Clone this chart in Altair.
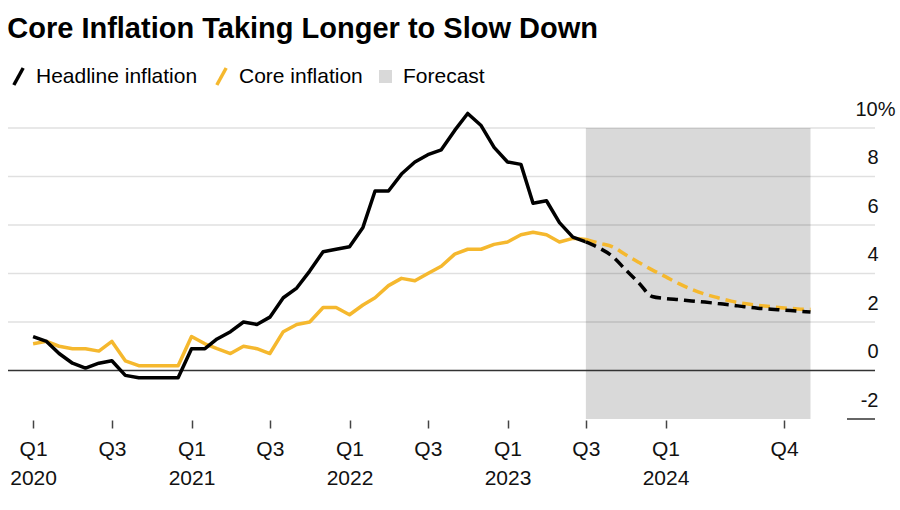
import altair as alt
import pandas as pd

# ---------------- data ----------------
actual_dates = pd.date_range("2020-01-01", "2023-07-01", freq="MS").strftime("%Y-%m-%d").tolist()
forecast_dates = pd.date_range("2023-07-01", "2024-12-01", freq="MS").strftime("%Y-%m-%d").tolist()

headline_actual = [1.4, 1.2, 0.7, 0.3, 0.1, 0.3, 0.4, -0.2, -0.3, -0.3, -0.3, -0.3,
                   0.9, 0.9, 1.3, 1.6, 2.0, 1.9, 2.2, 3.0, 3.4, 4.1, 4.9, 5.0,
                   5.1, 5.9, 7.4, 7.4, 8.1, 8.6, 8.9, 9.1, 9.9, 10.6, 10.1, 9.2,
                   8.6, 8.5, 6.9, 7.0, 6.1, 5.5, 5.3]
core_actual = [1.1, 1.2, 1.0, 0.9, 0.9, 0.8, 1.2, 0.4, 0.2, 0.2, 0.2, 0.2,
               1.4, 1.1, 0.9, 0.7, 1.0, 0.9, 0.7, 1.6, 1.9, 2.0, 2.6, 2.6,
               2.3, 2.7, 3.0, 3.5, 3.8, 3.7, 4.0, 4.3, 4.8, 5.0, 5.0, 5.2,
               5.3, 5.6, 5.7, 5.6, 5.3, 5.45, 5.4]
headline_forecast = [5.3, 5.05, 4.7, 4.15, 3.6, 3.05, 2.97, 2.92, 2.87, 2.82, 2.76, 2.7,
                     2.63, 2.57, 2.53, 2.49, 2.45, 2.41]
core_forecast = [5.4, 5.25, 5.1, 4.77, 4.45, 4.15, 3.87, 3.58, 3.35, 3.15, 3.0, 2.86,
                 2.76, 2.69, 2.63, 2.58, 2.54, 2.52]

series_names = ["Core inflation", "Headline inflation"]
legend_order = ["Headline inflation", "Core inflation"]
series_colors = ["#000000", "#f5b82e"]

forecast_label = "Forecast"
forecast_start = "2023-07-01"
forecast_end = "2024-12-01"
forecast_color = "#d9d9d9"

y_ticks = [-2, 0, 2, 4, 6, 8, 10]
grid_values = [2, 4, 6, 8, 10]
x_tick_dates = [(2020, 1), (2020, 7), (2021, 1), (2021, 7), (2022, 1), (2022, 7),
                (2023, 1), (2023, 7), (2024, 1), (2024, 10)]
x_domain = [(2019, 11, 4), (2025, 4, 29)]
y_domain = [-2, 10]

# ---------------- tables ----------------
actual_rows = []
for name, vals in zip(series_names, [core_actual, headline_actual]):
    for d, v in zip(actual_dates, vals):
        actual_rows.append({"date": d, "value": v, "series": name})
actual_df = pd.DataFrame(actual_rows)

fc_rows = []
for name, vals in zip(series_names, [core_forecast, headline_forecast]):
    for d, v in zip(forecast_dates, vals):
        fc_rows.append({"date": d, "value": v, "series": name})
fc_df = pd.DataFrame(fc_rows)

band_df = pd.DataFrame([{"start": forecast_start, "end": forecast_end,
                         "top": y_domain[1], "bottom": y_domain[0], "label": forecast_label}])
grid_df = pd.DataFrame({"value": grid_values})
zero_df = pd.DataFrame({"value": [0]})
bottom_df = pd.DataFrame({"value": [y_domain[0]]})

FONT = "Liberation Sans"

x_scale = alt.Scale(type="utc", domain=[alt.DateTime(year=a, month=b, date=c, utc=True) for a, b, c in x_domain])
y_scale = alt.Scale(domain=y_domain, nice=False, zero=False)

x_axis = alt.Axis(
    title=None,
    values=[alt.DateTime(year=a, month=b, date=1, utc=True) for a, b in x_tick_dates],
    labelExpr="utcmonth(datum.value) == 0 ? ['Q1', utcFormat(datum.value, '%Y')] : 'Q' + (floor(utcmonth(datum.value) / 3) + 1)",
    domain=False, grid=False, ticks=True, tickSize=8, tickWidth=1.5, tickColor="#444",
    offset=1, labelFont=FONT, labelFontSize=21, labelColor="#111",
    labelPadding=10, labelLineHeight=29, labelFlush=False, labelOverlap=False,
)
y_axis = alt.Axis(
    title=None, orient="right", values=y_ticks, domain=False, grid=False, ticks=False,
    labelExpr="datum.value == 10 ? '10%' : (datum.value < 0 ? '-' + abs(datum.value) : '' + datum.value)",
    labelAlign="right", labelBaseline="alphabetic", labelOffset=-13,
    labelPadding={"condition": {"test": "datum.value == 10", "value": 20}, "value": 3},
    labelFont=FONT, labelFontSize=20, labelColor="#111", labelOverlap=False, labelFlush=False,
)

color_scale = alt.Scale(domain=legend_order, range=series_colors)
line_legend = alt.Legend(
    title=None, orient="none", legendX=0, legendY=-62, direction="horizontal",
    symbolType="M-0.55,1L0.55,-1", symbolSize=289, symbolStrokeWidth=3.5,
    labelFont=FONT, labelFontSize=21, labelColor="#000", labelOffset=7, columnPadding=11,
    labelLimit=400,
)
band_legend = alt.Legend(
    title=None, orient="none", legendX=367, legendY=-62, direction="horizontal",
    symbolType="square", symbolSize=169, symbolStrokeWidth=0,
    labelFont=FONT, labelFontSize=21, labelColor="#000", labelOffset=7, labelLimit=400,
)

y_enc = alt.Y("value:Q", scale=y_scale, axis=y_axis)
x_enc = alt.X("date:T", scale=x_scale, axis=x_axis)

band = alt.Chart(band_df).mark_rect(strokeWidth=0).encode(
    x=alt.X("start:T", scale=x_scale, axis=x_axis),
    x2="end:T",
    y=alt.Y("top:Q", scale=y_scale, axis=y_axis),
    y2="bottom:Q",
    fill=alt.Fill("label:N", scale=alt.Scale(domain=[forecast_label], range=[forecast_color]), legend=band_legend),
)

grid = alt.Chart(grid_df).mark_rule(color="#000", opacity=0.12, strokeWidth=1.5).encode(y=y_enc)
zero = alt.Chart(zero_df).mark_rule(color="#333", strokeWidth=1.5).encode(y=y_enc)
bottom_tick = alt.Chart(bottom_df).mark_rule(color="#333", strokeWidth=1.5).encode(
    y=y_enc, x=alt.value(839), x2=alt.value(867)
)

actual = alt.Chart(actual_df).mark_line(strokeWidth=3.5, strokeJoin="round").encode(
    x=x_enc, y=y_enc,
    color=alt.Color("series:N", scale=color_scale, legend=line_legend),
)
forecast = alt.Chart(fc_df).mark_line(strokeWidth=3.5, strokeDash=[11, 6], interpolate="monotone").encode(
    x=x_enc, y=y_enc,
    color=alt.Color("series:N", scale=color_scale, legend=line_legend),
)

chart = alt.layer(band, grid, zero, bottom_tick, actual, forecast).properties(
    width=867, height=291,
    title=alt.TitleParams("Core Inflation Taking Longer to Slow Down", anchor="start",
                          font=FONT, fontSize=29, fontWeight="bold", color="#000", offset=22),
    padding={"left": 8, "top": 128, "right": 25, "bottom": 91},
    autosize="none",
).configure(background="white").configure_view(stroke=None, strokeWidth=0)

chart.save("out.html", embed_options={"renderer": "svg", "actions": False})
